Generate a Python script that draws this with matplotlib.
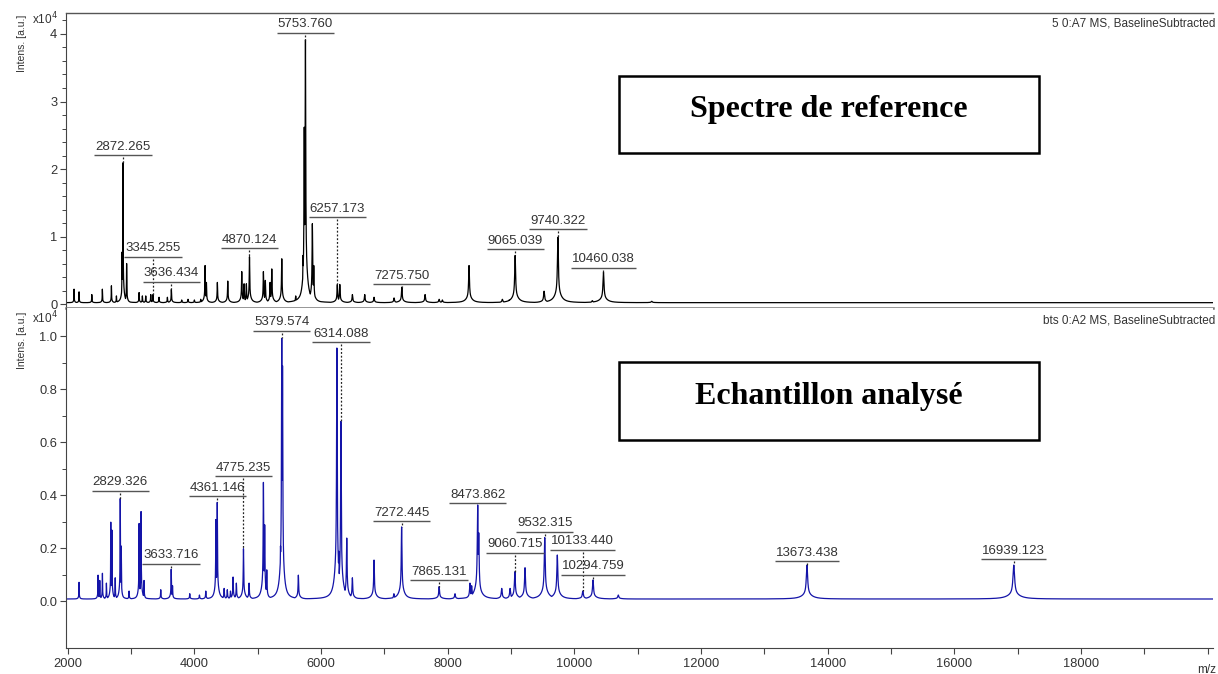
import numpy as np
import matplotlib
matplotlib.use("Agg")
import matplotlib.pyplot as plt
from matplotlib.ticker import FixedLocator
from matplotlib.patches import Rectangle
import matplotlib.transforms as mtrans

# ---------------- data (intensities in units of 1e4 a.u.) ----------------
ref_mz = [2100, 2179, 2380, 2547, 2690, 2769, 2858, 2872.265, 2930, 3127,
          3179, 3232, 3311, 3345.255, 3442, 3574, 3636.434, 3800, 3900, 4000,
          4100, 4169, 4190, 4363, 4527, 4748, 4785, 4821, 4870.124, 5090,
          5120, 5195, 5222, 5380, 5600, 5716, 5735, 5753.760, 5790, 5863,
          5885, 6257.173, 6296, 6495, 6690, 6837, 7153, 7275.750, 7643, 7865,
          7916, 8337, 8863, 8970, 9065.039, 9522, 9740.322, 10284, 10460.038, 11222]
ref_int = [0.2, 0.16, 0.12, 0.2, 0.25, 0.1, 0.75, 2.09, 0.58, 0.15,
           0.1, 0.1, 0.12, 0.12, 0.08, 0.08, 0.2, 0.04, 0.05, 0.04,
           0.05, 0.55, 0.3, 0.3, 0.32, 0.46, 0.28, 0.28, 0.68, 0.46,
           0.33, 0.3, 0.5, 0.65, 0.1, 0.7, 2.6, 3.9, 0.3, 1.17,
           0.55, 0.27, 0.27, 0.12, 0.12, 0.08, 0.07, 0.23, 0.12, 0.05,
           0.04, 0.55, 0.05, 0.04, 0.7, 0.17, 0.97, 0.03, 0.45, 0.02]

smp_mz = [2179, 2479, 2506, 2548, 2611, 2680, 2698, 2750, 2829.326, 2845,
          2969, 3127, 3158, 3205, 3469, 3633.716, 3655, 3927, 4080, 4180,
          4340, 4361.146, 4470, 4520, 4570, 4611, 4663, 4775.235, 4864, 5090,
          5110, 5143, 5360, 5379.574, 5392, 5642, 6179, 6250, 6280, 6314.088,
          6406, 6495, 6837, 7150, 7272.445, 7865.131, 8115, 8352, 8378, 8473.862,
          8490, 8853, 8985, 9060.715, 9221, 9532.315, 9731, 10133.440, 10294.759, 10694,
          13673.438, 16939.123]
smp_int = [0.063, 0.09, 0.07, 0.097, 0.06, 0.29, 0.26, 0.08, 0.384, 0.2,
           0.03, 0.285, 0.33, 0.07, 0.035, 0.113, 0.05, 0.02, 0.015, 0.03,
           0.3, 0.365, 0.04, 0.035, 0.03, 0.083, 0.06, 0.19, 0.06, 0.44,
           0.28, 0.11, 0.2, 0.99, 0.88, 0.09, 0.03, 0.947, 0.18, 0.67,
           0.23, 0.08, 0.147, 0.02, 0.273, 0.047, 0.02, 0.06, 0.05, 0.355,
           0.25, 0.04, 0.04, 0.103, 0.118, 0.232, 0.166, 0.03, 0.072, 0.015,
           0.128, 0.128]

ref_label_mz = [2872.265, 3345.255, 3636.434, 4870.124, 5753.760, 6257.173,
                7275.750, 9065.039, 9740.322, 10460.038]
ref_label_y = [2.207, 0.70, 0.33, 0.825, 4.02, 1.284, 0.29, 0.81, 1.107, 0.54]

smp_label_mz = [2829.326, 3633.716, 4361.146, 4775.235, 5379.574, 6314.088,
                7272.445, 7865.131, 8473.862, 9060.715, 9532.315, 10133.440,
                10294.759, 13673.438, 16939.123]
smp_label_y = [0.416, 0.141, 0.395, 0.471, 1.020, 0.976, 0.301, 0.078, 0.369,
               0.183, 0.261, 0.194, 0.100, 0.151, 0.158]

ref_baseline = 0.02
smp_baseline = 0.008

ref_title = "5 0:A7 MS, BaselineSubtracted"
smp_title = "bts 0:A2 MS, BaselineSubtracted"
ref_box = "Spectre de reference"
smp_box = "Echantillon analysé"

x_ticks = list(range(2000, 20001, 2000))
ref_yticks = [0, 1, 2, 3, 4]
smp_yticks = [0.0, 0.2, 0.4, 0.6, 0.8, 1.0]

# ---------------- rendering helpers ----------------
W, H = 1218, 674
grid = np.arange(1968.0, 20086.0, 1.0)


def profile(mzs, hs, base):
    y = np.zeros_like(grid)
    for m, h in zip(mzs, hs):
        w = 0.0018 * m
        wb = 0.013 * m
        p = h * (0.85 / (1 + ((grid - m) / (w / 2)) ** 2)
                 + 0.15 / (1 + ((grid - m) / (wb / 2)) ** 2))
        y = np.maximum(y, p)
    return y + base


def fx(px):
    return px / W


def fy(py):
    return (H - py) / H


TXT = "#333333"
plt.rcParams["font.family"] = ["Liberation Sans", "DejaVu Sans"]

fig = plt.figure(figsize=(W / 100, H / 100), dpi=100)
left, right = 65.7, 1213
ax1 = fig.add_axes([fx(left), fy(308), fx(right - left), (308 - 13) / H])
ax2 = fig.add_axes([fx(left), fy(648.3), fx(right - left), (648.3 - 308) / H])

y_ref = profile(ref_mz, ref_int, ref_baseline)
y_smp = profile(smp_mz, smp_int, smp_baseline)

ax1.plot(grid, y_ref, color="#000000", lw=0.9)
ax2.plot(grid, y_smp, color="#1414a8", lw=0.9)

for ax in (ax1, ax2):
    ax.set_xlim(1968, 20085)
    ax.spines["right"].set_visible(False)
    ax.spines["left"].set_color("#444444")
    ax.tick_params(axis="y", direction="out", length=4, width=0.8,
                   color="#444444", labelsize=9.3, labelcolor=TXT, pad=2)
    ax.tick_params(axis="y", which="minor", direction="out", length=3,
                   width=0.7, color="#444444")

ax1.set_ylim(-0.059, 4.311)
ax1.set_yticks(ref_yticks)
ax1.set_yticklabels([str(v) for v in ref_yticks])
ax1.yaxis.set_minor_locator(FixedLocator([v / 5 for v in range(1, 22) if v % 5]))
ax1.tick_params(axis="x", which="both", bottom=False, labelbottom=False)
ax1.spines["top"].set_color("#555555")
ax1.spines["top"].set_linewidth(1.0)
ax1.spines["bottom"].set_color("#777777")
ax1.spines["bottom"].set_linewidth(1.8)

ax2.set_ylim(-0.178, 1.106)
ax2.set_yticks(smp_yticks)
ax2.set_yticklabels([f"{v:.1f}" for v in smp_yticks])
ax2.yaxis.set_minor_locator(FixedLocator([0.1, 0.3, 0.5, 0.7, 0.9]))
ax2.spines["top"].set_visible(False)
ax2.spines["bottom"].set_color("#444444")
ax2.set_xticks(x_ticks)
ax2.set_xticklabels([str(v) if v < 20000 else "" for v in x_ticks])
ax2.xaxis.set_minor_locator(FixedLocator(list(range(3000, 20000, 2000))))
ax2.tick_params(axis="x", which="both", direction="out", length=4, width=0.8,
                color="#444444", labelsize=9.3, labelcolor=TXT, pad=3)

# axis labels / exponents
fig.text(fx(22), fy(15), "Intens. [a.u.]", rotation=90, ha="center", va="top",
         fontsize=7.5, color=TXT)
fig.text(fx(22), fy(312), "Intens. [a.u.]", rotation=90, ha="center", va="top",
         fontsize=7.5, color=TXT)
fig.text(fx(58), fy(24), r"x10$^4$", ha="right", va="baseline", fontsize=8.5, color=TXT)
fig.text(fx(58), fy(323), r"x10$^4$", ha="right", va="baseline", fontsize=8.5, color=TXT)
fig.text(fx(1215), fy(27), ref_title, ha="right", va="baseline", fontsize=8.5, color=TXT)
fig.text(fx(1215), fy(324), smp_title, ha="right", va="baseline", fontsize=8.5, color=TXT)
fig.text(fx(1197), fy(664), "m/z", ha="left", va="top", fontsize=8.5, color=TXT)

# framed titles
for (x0, y0, x1, y1), txt, base in [((619, 75.7, 1038.5, 153.3), ref_box, 117.3),
                                     ((619.3, 362, 1039, 440), smp_box, 404)]:
    fig.patches.append(Rectangle((fx(x0), fy(y1)), fx(x1 - x0), (y1 - y0) / H,
                                 transform=fig.transFigure, fill=False,
                                 edgecolor="#000000", lw=1.8))
    fig.text(fx((x0 + x1) / 2), fy(base), txt, ha="center", va="baseline",
             fontsize=23, fontweight="bold", family=["Liberation Serif"],
             color="#000000")

# peak labels
texts = []
for ax, mzs, lys, yy in [(ax1, ref_label_mz, ref_label_y, y_ref),
                         (ax2, smp_label_mz, smp_label_y, y_smp)]:
    tr = mtrans.offset_copy(ax.transData, fig=fig, x=0, y=2.5, units="dots")
    for m, ly in zip(mzs, lys):
        t = ax.text(m, ly, f"{m:.3f}", ha="center", va="bottom",
                    fontsize=9.5, color=TXT, transform=tr)
        texts.append((ax, t, m, ly, yy))

fig.canvas.draw()
ren = fig.canvas.get_renderer()
for ax, t, m, ly, yy in texts:
    bb = t.get_window_extent(ren)
    inv = ax.transData.inverted()
    xa = inv.transform((bb.x0 - 1, 0))[0]
    xb = inv.transform((bb.x1 + 1, 0))[0]
    ax.plot([xa, xb], [ly, ly], color="#555555", lw=1.0, solid_capstyle="butt")
    sel = np.abs(grid - m) <= 6
    top = yy[sel].max()
    y_disp = ax.transData.transform((m, ly))[1] - 2
    y_start = inv.transform((0, y_disp))[1]
    if y_start > top:
        ax.plot([m, m], [y_start, top], color="#222222", lw=0.9,
                linestyle=(0, (1.5, 1.5)))

fig.savefig("out.png", dpi=100)
